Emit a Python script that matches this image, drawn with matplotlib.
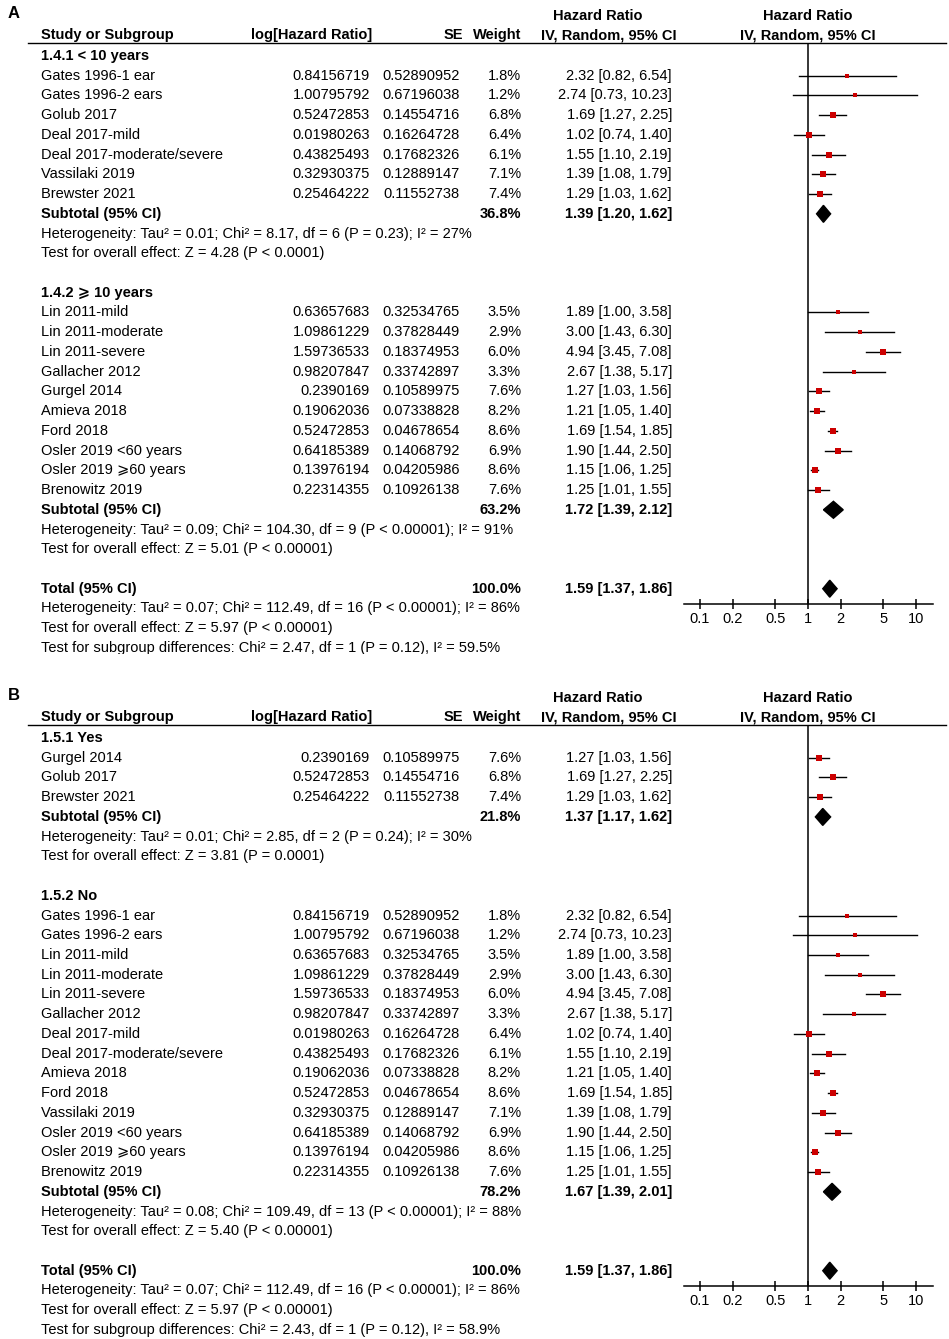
import numpy as np
import matplotlib.pyplot as plt
from matplotlib.patches import Polygon

plt.rcParams['font.family'] = ['Liberation Sans', 'DejaVu Sans']

# per-study data (same weights in both analyses)
studies = ["Gates 1996-1 ear", "Gates 1996-2 ears", "Golub 2017", "Deal 2017-mild",
           "Deal 2017-moderate/severe", "Vassilaki 2019", "Brewster 2021",
           "Lin 2011-mild", "Lin 2011-moderate", "Lin 2011-severe", "Gallacher 2012",
           "Gurgel 2014", "Amieva 2018", "Ford 2018", "Osler 2019 <60 years",
           "Osler 2019 \u2a7e60 years", "Brenowitz 2019"]
log_hr = [0.84156719, 1.00795792, 0.52472853, 0.01980263, 0.43825493, 0.32930375, 0.25464222,
          0.63657683, 1.09861229, 1.59736533, 0.98207847, 0.2390169, 0.19062036, 0.52472853,
          0.64185389, 0.13976194, 0.22314355]
se = [0.52890952, 0.67196038, 0.14554716, 0.16264728, 0.17682326, 0.12889147, 0.11552738,
      0.32534765, 0.37828449, 0.18374953, 0.33742897, 0.10589975, 0.07338828, 0.04678654,
      0.14068792, 0.04205986, 0.10926138]
weight = [1.8, 1.2, 6.8, 6.4, 6.1, 7.1, 7.4, 3.5, 2.9, 6.0, 3.3, 7.6, 8.2, 8.6, 6.9, 8.6, 7.6]
hr = [2.32, 2.74, 1.69, 1.02, 1.55, 1.39, 1.29, 1.89, 3.00, 4.94, 2.67, 1.27, 1.21, 1.69, 1.90, 1.15, 1.25]
ci_lo = [0.82, 0.73, 1.27, 0.74, 1.10, 1.08, 1.03, 1.00, 1.43, 3.45, 1.38, 1.03, 1.05, 1.54, 1.44, 1.06, 1.01]
ci_hi = [6.54, 10.23, 2.25, 1.40, 2.19, 1.79, 1.62, 3.58, 6.30, 7.08, 5.17, 1.56, 1.40, 1.85, 2.50, 1.25, 1.55]

# panel A: follow-up duration
a_groups = ["1.4.1 < 10 years", "1.4.2 \u2a7e 10 years"]
a_members = [[0, 1, 2, 3, 4, 5, 6], [7, 8, 9, 10, 11, 12, 13, 14, 15, 16]]
a_sub_w = [36.8, 63.2]
a_sub_hr = [1.39, 1.72]
a_sub_lo = [1.20, 1.39]
a_sub_hi = [1.62, 2.12]
a_het = ["Heterogeneity: Tau\u00b2 = 0.01; Chi\u00b2 = 8.17, df = 6 (P = 0.23); I\u00b2 = 27%",
         "Heterogeneity: Tau\u00b2 = 0.09; Chi\u00b2 = 104.30, df = 9 (P < 0.00001); I\u00b2 = 91%"]
a_test = ["Test for overall effect: Z = 4.28 (P < 0.0001)",
          "Test for overall effect: Z = 5.01 (P < 0.00001)"]
a_diff = "Test for subgroup differences: Chi\u00b2 = 2.47, df = 1 (P = 0.12), I\u00b2 = 59.5%"

# panel B: yes / no
b_groups = ["1.5.1 Yes", "1.5.2 No"]
b_members = [[11, 2, 6], [0, 1, 7, 8, 9, 10, 3, 4, 12, 13, 5, 14, 15, 16]]
b_sub_w = [21.8, 78.2]
b_sub_hr = [1.37, 1.67]
b_sub_lo = [1.17, 1.39]
b_sub_hi = [1.62, 2.01]
b_het = ["Heterogeneity: Tau\u00b2 = 0.01; Chi\u00b2 = 2.85, df = 2 (P = 0.24); I\u00b2 = 30%",
         "Heterogeneity: Tau\u00b2 = 0.08; Chi\u00b2 = 109.49, df = 13 (P < 0.00001); I\u00b2 = 88%"]
b_test = ["Test for overall effect: Z = 3.81 (P = 0.0001)",
          "Test for overall effect: Z = 5.40 (P < 0.00001)"]
b_diff = "Test for subgroup differences: Chi\u00b2 = 2.43, df = 1 (P = 0.12), I\u00b2 = 58.9%"

total_hr, total_lo, total_hi = 1.59, 1.37, 1.86
total_het = "Heterogeneity: Tau\u00b2 = 0.07; Chi\u00b2 = 112.49, df = 16 (P < 0.00001); I\u00b2 = 86%"
total_test = "Test for overall effect: Z = 5.97 (P < 0.00001)"

ticks = [0.1, 0.2, 0.5, 1, 2, 5, 10]
tick_labels = ["0.1", "0.2", "0.5", "1", "2", "5", "10"]

W, H = 949, 1339
FS = 10.5
ROW = 19.73
RED = '#cc0000'

fig = plt.figure(figsize=(W / 100, H / 100), dpi=100)


def ci_str(h, lo, hi):
    return f"{h:.2f} [{lo:.2f}, {hi:.2f}]"


def diamond(ax, r, h, lo, hi):
    ax.add_patch(Polygon([(lo, r), (h, r - 0.43), (hi, r), (h, r + 0.43)],
                         closed=True, color='black', zorder=3))


def draw_panel(label, top, clip_bottom, groups, members, sub_w, sub_hr, sub_lo, sub_hi,
               het, test, diff):
    y0 = top + 56
    tax = fig.add_axes([0, 1 - clip_bottom / H, 1, (clip_bottom - top) / H])
    tax.set_xlim(0, W)
    tax.set_ylim(clip_bottom, top)
    tax.axis('off')

    def txt(x, y, s, ha='left', bold=False, size=FS):
        tax.text(x, y, s, ha=ha, va='center', fontsize=size,
                 fontweight='bold' if bold else 'normal', clip_on=True)

    # header
    txt(8, top + 13, label, bold=True, size=12)
    txt(598, top + 16, "Hazard Ratio", ha='center', bold=True)
    txt(808, top + 16, "Hazard Ratio", ha='center', bold=True)
    txt(41, top + 35, "Study or Subgroup", bold=True)
    txt(372, top + 35, "log[Hazard Ratio]", ha='right', bold=True)
    txt(463, top + 35, "SE", ha='right', bold=True)
    txt(521, top + 35, "Weight", ha='right', bold=True)
    txt(677, top + 35, "IV, Random, 95% CI", ha='right', bold=True)
    txt(808, top + 35, "IV, Random, 95% CI", ha='center', bold=True)
    tax.plot([28, 946], [top + 43, top + 43], color='black', lw=1.0)

    # forest axes
    axis_px = top + 604
    fax = fig.add_axes([684 / W, 1 - axis_px / H, 249 / W, (604 - 43) / H])
    fax.set_xscale('log')
    fax.set_xlim(10 ** ((684 - 808) / 108), 10 ** ((933 - 808) / 108))
    fax.set_ylim((axis_px - y0) / ROW, (top + 43 - y0) / ROW)
    fax.patch.set_alpha(0)
    for s in ['top', 'left', 'right']:
        fax.spines[s].set_visible(False)
    fax.spines['bottom'].set_linewidth(1.1)
    fax.set_yticks([])
    fax.set_xticks(ticks)
    fax.set_xticklabels(tick_labels)
    fax.minorticks_off()
    fax.tick_params(axis='x', direction='inout', length=7, width=1.1, labelsize=FS, pad=2)
    fax.axvline(1, color='black', lw=1.1, zorder=1)

    r = 0
    for g in range(2):
        txt(41, y0 + r * ROW, groups[g], bold=True)
        r += 1
        for i in members[g]:
            y = y0 + r * ROW
            txt(41, y, studies[i])
            txt(370, y, str(log_hr[i]), ha='right')
            txt(460, y, str(se[i]), ha='right')
            txt(521, y, f"{weight[i]:.1f}%", ha='right')
            txt(672, y, ci_str(hr[i], ci_lo[i], ci_hi[i]), ha='right')
            fax.plot([ci_lo[i], ci_hi[i]], [r, r], color='black', lw=1.0, zorder=2)
            fax.plot(hr[i], r, marker='s', color=RED, ms=0.95 * (2.4 + 0.3 * weight[i]),
                     mew=0, zorder=3)
            r += 1
        y = y0 + r * ROW
        txt(41, y, "Subtotal (95% CI)", bold=True)
        txt(521, y, f"{sub_w[g]:.1f}%", ha='right', bold=True)
        txt(672, y, ci_str(sub_hr[g], sub_lo[g], sub_hi[g]), ha='right', bold=True)
        diamond(fax, r, sub_hr[g], sub_lo[g], sub_hi[g])
        r += 1
        txt(41, y0 + r * ROW, het[g])
        r += 1
        txt(41, y0 + r * ROW, test[g])
        r += 2
    y = y0 + r * ROW
    txt(41, y, "Total (95% CI)", bold=True)
    txt(521, y, "100.0%", ha='right', bold=True)
    txt(672, y, ci_str(total_hr, total_lo, total_hi), ha='right', bold=True)
    diamond(fax, r, total_hr, total_lo, total_hi)
    r += 1
    txt(41, y0 + r * ROW, total_het)
    r += 1
    txt(41, y0 + r * ROW, total_test)
    r += 1
    txt(41, y0 + r * ROW, diff)


draw_panel("A", 0, 654, a_groups, a_members, a_sub_w, a_sub_hr, a_sub_lo, a_sub_hi,
           a_het, a_test, a_diff)
draw_panel("B", 682, H, b_groups, b_members, b_sub_w, b_sub_hr, b_sub_lo, b_sub_hi,
           b_het, b_test, b_diff)

plt.savefig("out.png", dpi=100)
